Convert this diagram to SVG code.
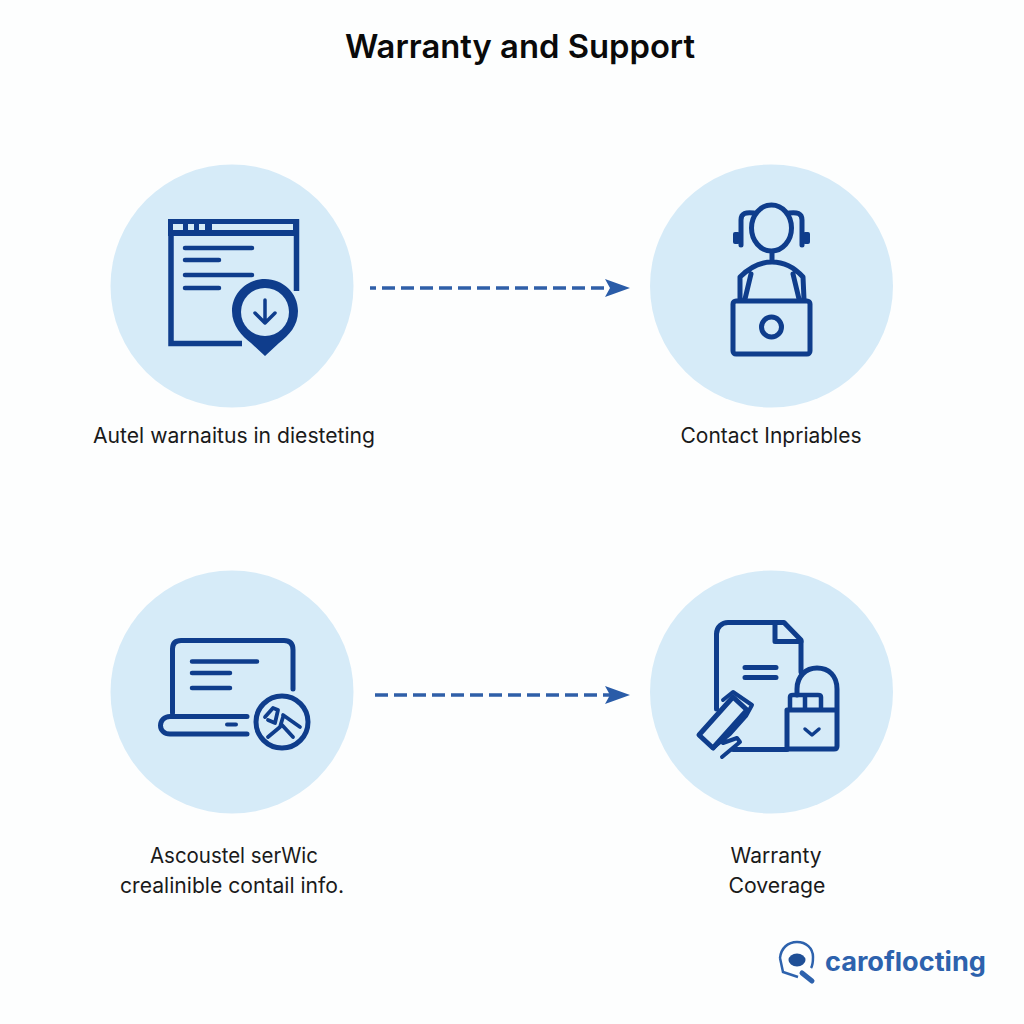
<svg xmlns="http://www.w3.org/2000/svg" width="1024" height="1024" viewBox="0 0 1024 1024">
<style>
.bg{fill:#d6ebf8}
.i{fill:none;stroke:#0f3d8c;stroke-width:5;stroke-linecap:round;stroke-linejoin:round}
.b{stroke-linecap:butt;stroke-linejoin:miter}
.f{fill:#0f3d8c}
.l{fill:#d6ebf8}
.t{font-family:"Inter","Open Sans","Liberation Sans",sans-serif;font-size:21px;fill:#1a1a1a;text-anchor:middle}
.d{fill:none;stroke:#2f5fa8;stroke-width:3.500;stroke-dasharray:13 6}
.h{fill:#2a5ca8}
</style>
<rect width="1024" height="1024" fill="#fdfefe"/>
<text id="title" x="520" y="58" text-anchor="middle" style="font-family:'Inter','Liberation Sans',sans-serif;font-size:32px;font-weight:600;fill:#0a0a0a" textLength="350" lengthAdjust="spacingAndGlyphs">Warranty and Support</text>
<g id="connectors">
<path class="d" d="M370 288H610" stroke-dashoffset="7"/><path class="h" d="M605 279L630 288L605 297L610 288Z"/>
<path class="d" d="M375 695H610"/><path class="h" d="M605 686L630 695L605 704L610 695Z"/>
</g>
<g id="node-warranty-info">
<circle class="bg" cx="232" cy="286" r="121.500"/>
<path class="i b" d="M242 343.500H171V222H296.500V291" style="stroke-width:5.500"/>
<rect class="f" x="168" y="219" width="131" height="17"/>
<rect class="l" x="173" y="224" width="10" height="6"/><rect class="l" x="188" y="224" width="6" height="6"/><rect class="l" x="199" y="224" width="6" height="6"/><rect class="l" x="212" y="224" width="81" height="6"/>
<path class="i" d="M185 248H252M185 260H219M185 275H252M185 288H219" style="stroke-width:4.500"/>
<path class="f" d="M265 279C247 279 232 293 232 311C232 326 242 336 251 343L265 356L279 343C289 335 298 326 298 311C298 293 283 279 265 279Z"/>
<circle cx="265" cy="312" r="24" class="l"/>
<path class="i" d="M265 300V323M255 313L265 323L275 313" style="stroke-width:3.500"/>
<text class="t" x="234" y="443" textLength="282" lengthAdjust="spacingAndGlyphs">Autel warnaitus in diesteting</text>
</g>
<g id="node-contact">
<circle class="bg" cx="771.500" cy="286" r="121.500"/>
<ellipse class="i" cx="771.500" cy="228" rx="20" ry="23"/>
<path class="i" d="M741 245V220C741 213 746 212 754 213M802 245V220C802 213 797 212 789 213"/>
<rect class="f" x="733" y="232" width="7" height="12" rx="2"/><rect class="f" x="803" y="232" width="7" height="12" rx="2"/>
<path class="i" d="M772 252V262M740 299L740 277C750 267 760 262 772 262C784 262 794 267 803 277L804 299M751 274L745 299M793 274L799 299"/>
<rect class="i" x="733" y="301" width="77" height="53" rx="3"/>
<circle class="i" cx="771.500" cy="327" r="10"/>
<text class="t" x="771" y="443" textLength="181" lengthAdjust="spacingAndGlyphs">Contact Inpriables</text>
</g>
<g id="node-customer-service">
<circle class="bg" cx="232" cy="692" r="121.500"/>
<path class="i" d="M172.500 713V649C172.500 643 176 640.500 181 640.500H284C290 640.500 293 644 293 650V689"/>
<path class="i" d="M247 716.500H170C164 716.500 160.500 721 160.500 725.500C160.500 730 164 734 170 734H247"/>
<path class="i" d="M192 661.500H257M192 673H230M192 688H230" style="stroke-width:4.500"/>
<path class="i" d="M227 724.500H236" style="stroke-width:4"/>
<circle class="i" cx="282" cy="722" r="26"/>
<path class="i" d="M265 717L273 708L278 710L275 723L268 720M283 717L280 727L268 737M282 725L293 737M283 715L300 727" style="stroke-width:3.800"/>
<text class="t" x="234" y="863" textLength="168" lengthAdjust="spacingAndGlyphs">Ascoustel serWic</text>
<text class="t" x="232" y="893" textLength="224" lengthAdjust="spacingAndGlyphs">crealinible contail info.</text>
</g>
<g id="node-warranty-coverage">
<circle class="bg" cx="771.500" cy="692" r="121.500"/>
<path class="i" d="M716.500 709V634C716.500 627 722 622.500 728 622.500H784L801 640V672"/>
<path class="i" d="M775 622.500V641.500H801"/>
<path class="i" d="M745 667.500H776M745 677.500H776"/>
<path class="i" d="M733 749.500H787"/>
<path class="i" d="M797 695V689C797 676 806 668 817 668C829 668 837 676 837 689V746C837 748 836 749 834 749H787V710H837"/>
<path class="i" d="M790 708V697C790 696 791 695 793 695H818C820 695 821 696 821 697V708M805 695V708" style="stroke-width:4.500"/>
<path class="i" d="M805 729L812 735L819 729" style="stroke-width:3.500"/>
<path class="i" d="M699 735L733 697L747 710L713 748Z"/>
<path class="i" d="M723 700L733 692L752 705L746 716L730 734L713 748M723 743L737 738L740 742L722 757" style="stroke-width:4"/>
<text class="t" x="776" y="863" textLength="91" lengthAdjust="spacingAndGlyphs">Warranty</text>
<text class="t" x="777" y="893" textLength="97" lengthAdjust="spacingAndGlyphs">Coverage</text>
</g>
<g id="logo">
<path d="M780 958C781 948 788 942 797 942C806 942 813 948 813 957C813 962 813 965 811 968M780 958L783 972L798 977" fill="none" stroke="#2d62ad" stroke-width="2.500"/>
<ellipse cx="797" cy="960" rx="8.500" ry="6.500" fill="#1f4f96"/>
<path d="M802 973L812 981" fill="none" stroke="#2d62ad" stroke-width="5" stroke-linecap="round"/>
<text x="825" y="971" textLength="161" lengthAdjust="spacingAndGlyphs" style="font-family:'Inter','Liberation Sans',sans-serif;font-size:26px;font-weight:700;fill:#2d62ad">caroflocting</text>
</g>
</svg>
